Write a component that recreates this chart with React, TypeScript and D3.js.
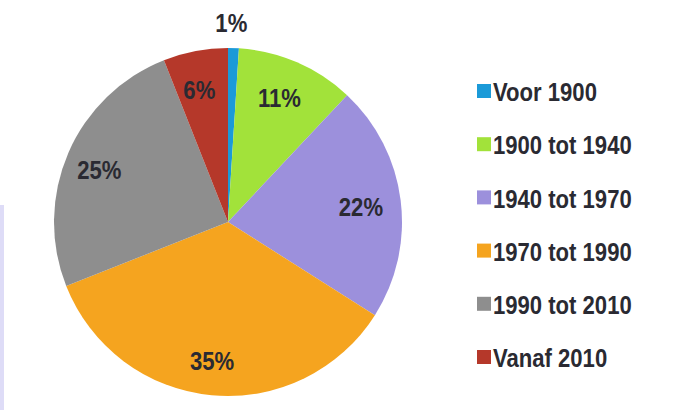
import React, { useEffect, useRef } from 'react'
import * as d3 from 'd3'

const categories = ['Voor 1900', '1900 tot 1940', '1940 tot 1970', '1970 tot 1990', '1990 tot 2010', 'Vanaf 2010']
const values = [1, 11, 22, 35, 25, 6]
const colors = ['#1b9ad8', '#a2e23a', '#9c90dc', '#f5a41f', '#8e8e8e', '#b5382a']

const WIDTH = 684
const HEIGHT = 417
const FONT = '"Liberation Sans", Arial, sans-serif'
// the original uses a condensed face; squeeze Liberation Sans horizontally
const SQUEEZE = 0.85

export default function App() {
  const svgRef = useRef<SVGSVGElement>(null)

  useEffect(() => {
    if (!svgRef.current) return
    const svg = d3.select(svgRef.current)
    svg.selectAll('*').remove()

    svg.append('rect').attr('width', WIDTH).attr('height', HEIGHT).attr('fill', '#fff')

    // faint lavender strip at the left edge
    svg.append('rect')
      .attr('x', 0).attr('y', 205).attr('width', 4).attr('height', 205)
      .attr('fill', '#dedcf7')

    const cx = 228
    const cy = 222
    const radius = 174

    const pie = d3.pie<number>().sort(null).value(d => d)
    const arcs = pie(values)
    const arc = d3.arc<d3.PieArcDatum<number>>().innerRadius(0).outerRadius(radius)
    const labelArc = d3.arc<d3.PieArcDatum<number>>().innerRadius(137).outerRadius(137)
    const outerArc = d3.arc<d3.PieArcDatum<number>>().innerRadius(radius + 27).outerRadius(radius + 27)

    const g = svg.append('g').attr('transform', `translate(${cx},${cy})`)

    g.selectAll('path')
      .data(arcs)
      .enter()
      .append('path')
      .attr('d', arc)
      .attr('fill', (_, i) => colors[i])

    // percentage labels; tiny slice gets its label outside
    g.selectAll('text.pct')
      .data(arcs)
      .enter()
      .append('text')
      .attr('class', 'pct')
      .attr('transform', d => {
        const [x, y] = d.data < 3 ? outerArc.centroid(d) : labelArc.centroid(d)
        return `translate(${x - 3},${y + 2}) scale(${SQUEEZE},1)`
      })
      .attr('text-anchor', 'middle')
      .attr('dominant-baseline', 'central')
      .style('font-family', FONT)
      .style('font-weight', 'bold')
      .style('font-size', '26px')
      .style('fill', '#2a2a32')
      .text(d => `${d.data}%`)

    // legend
    const legendY = d3.scalePoint<string>()
      .domain(categories)
      .range([91, 357])

    const legend = svg.append('g').attr('transform', 'translate(477,0)')
    const rows = legend.selectAll('g')
      .data(categories)
      .enter()
      .append('g')
      .attr('transform', d => `translate(0,${legendY(d)})`)

    rows.append('rect')
      .attr('x', 0).attr('y', -7)
      .attr('width', 14).attr('height', 14)
      .attr('fill', (_, i) => colors[i])

    rows.append('text')
      .attr('transform', `translate(16,1) scale(${SQUEEZE},1)`)
      .attr('dominant-baseline', 'central')
      .style('font-family', FONT)
      .style('font-weight', 'bold')
      .style('font-size', '26px')
      .style('fill', '#2a2a32')
      .text(d => d)
  }, [])

  return (
    <svg
      ref={svgRef}
      width={WIDTH}
      height={HEIGHT}
      style={{ position: 'absolute', left: 0, top: 0, display: 'block' }}
    />
  )
}
